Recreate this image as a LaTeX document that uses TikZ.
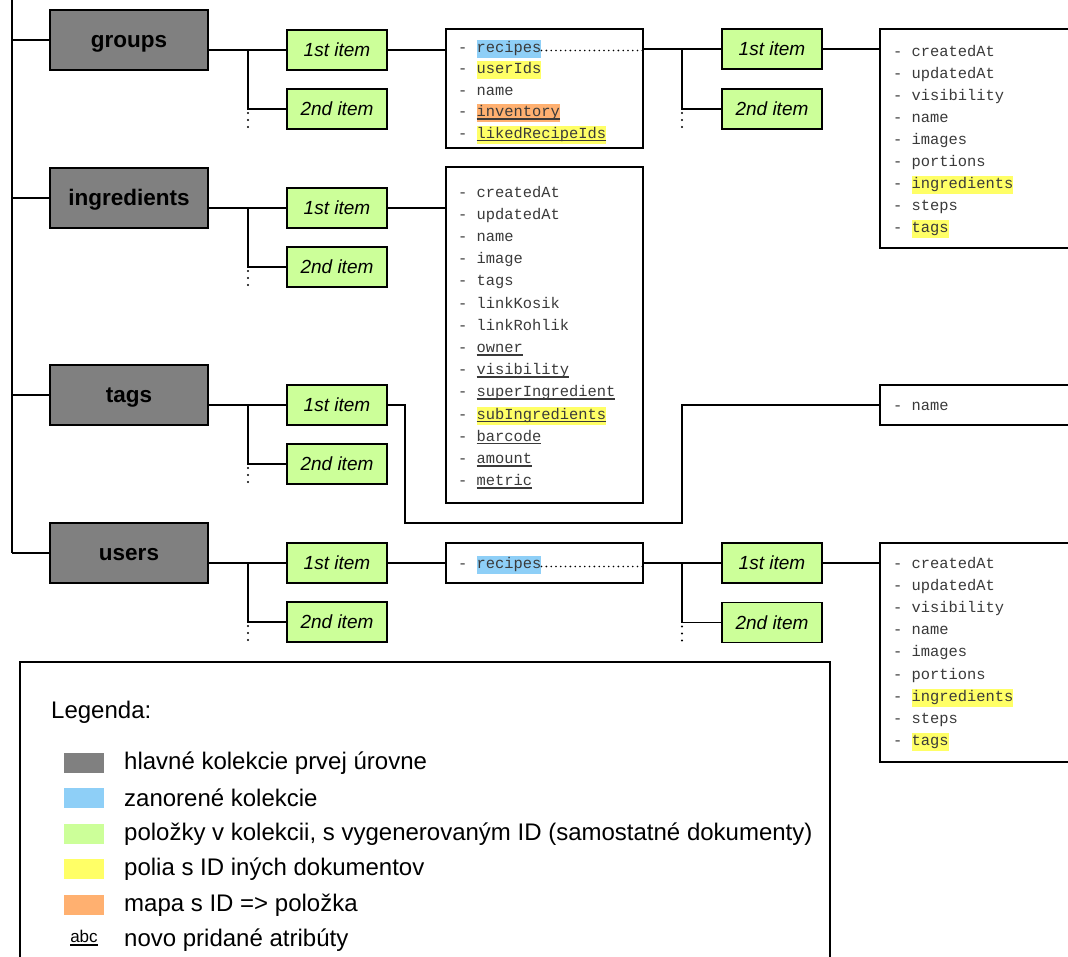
\documentclass[tikz,border=0pt]{standalone}
\usepackage{fontspec}
\setmainfont{Liberation Sans}
\newfontfamily\monof{Liberation Mono}
\definecolor{collgray}{HTML}{808080}
\definecolor{itemgreen}{HTML}{CCFF99}
\definecolor{hlblue}{HTML}{8ECFF7}
\definecolor{hlyellow}{HTML}{FFFF66}
\definecolor{hlorange}{HTML}{FFB070}
\definecolor{fieldtext}{HTML}{3A3A3A}
% highlighted field name
\newcommand\hlt[2]{{\fboxsep=0pt\colorbox{#1}{\strut#2}}}
% newly added attribute: thick underline
\newcommand\newattr[1]{\setbox0\hbox{#1}\rlap{\rule[-3pt]{\wd0}{1.6pt}}\box0}
% three dots below a branch
\newcommand\moredots[1]{\foreach \d in {4,11,18} \fill (#1) ++(0,\d) circle[radius=1.1pt];}
\begin{document}
\begin{tikzpicture}[x=1pt,y=-1pt,
  conn/.style={line width=1.6pt,black},
  dotline/.style={line width=1.8pt,line cap=round,dash pattern=on 0pt off 4.8pt},
  coll/.style={draw,line width=1.8pt,fill=collgray,minimum width=158pt,minimum height=60pt,inner sep=0pt,
    text height=19pt,text depth=5pt,font=\fontsize{22.5}{27}\selectfont\bfseries},
  item/.style={draw,line width=1.8pt,fill=itemgreen,minimum width=100pt,minimum height=40pt,inner sep=0pt,
    font=\fontsize{19}{23}\selectfont\itshape},
  fbox/.style={draw,line width=1.8pt,fill=white,inner sep=0pt},
  fld/.style={anchor=west,inner sep=0pt,yshift=-1.5pt,text=fieldtext,font=\monof\fontsize{15.4}{18}\selectfont},
  swatch/.style={minimum width=40pt,minimum height=20pt,inner sep=0pt},
  legtext/.style={anchor=west,inner sep=0pt,font=\fontsize{24}{28}\selectfont}
]
\useasboundingbox (0,0) rectangle (1068,956);

% spine of the top-level collections
\coordinate (spine) at (12,0);

% top-level collections with their first two items
\foreach \nm/\lab/\T in {groups/groups/10, ingr/ingredients/168, tags/tags/365, users/users/523} {
  \node[coll] (\nm) at (129,\T+30) {\lab};
  \node[item] (\nm-1) at (337,\T+40) {1st item};
  \node[item] (\nm-2) at (337,\T+99) {2nd item};
  \coordinate (\nm-br) at (248,\T+40);
  \draw[conn] (spine |- \nm.west) -- (\nm.west);
  \draw[conn] (\nm.east |- \nm-1.west) -- (\nm-1.west);
  \draw[conn] (\nm-br) |- (\nm-2.west);
  \moredots{\nm-br |- \nm-2.west}
}
\draw[conn] (spine) -- (spine |- users.west);

% groups: item fields
\node[fbox,minimum width=197pt,minimum height=119pt] (gfb) at (544.5,88.5) {};
\foreach \t [count=\i] in {{\hlt{hlblue}{recipes}}, {\hlt{hlyellow}{userIds}}, name,
    {\hlt{hlorange}{\newattr{inventory}}}, {\hlt{hlyellow}{\newattr{likedRecipeIds}}}}
  \node[fld] (gf-\i) at (458,{47+21.5*(\i-1)}) {- \strut\t};
\draw[conn] (groups-1.east) -- (groups-1.east -| gfb.west);
\coordinate (gdot) at ([yshift=-2pt]gf-1.east);
\draw[dotline] (gdot) -- (gdot -| gfb.east);

% groups: nested recipes collection
\node[item] (gr-1) at (772,49) {1st item};
\node[item] (gr-2) at (772,109) {2nd item};
\coordinate (gr-br) at (682,49);
\draw[conn] (gfb.east |- gr-1.west) -- (gr-1.west);
\draw[conn] (gr-br) |- (gr-2.west);
\moredots{gr-br |- gr-2.west}
\node[fbox,minimum width=200pt,minimum height=219pt] (grfb) at (980,138.5) {};
\foreach \t [count=\i] in {createdAt, updatedAt, visibility, name, images, portions,
    {\hlt{hlyellow}{ingredients}}, steps, {\hlt{hlyellow}{tags}}}
  \node[fld] (grf-\i) at (893,{51+22*(\i-1)}) {- \strut\t};
\draw[conn] (gr-1.east) -- (gr-1.east -| grfb.west);

% ingredients: item fields
\node[fbox,minimum width=197pt,minimum height=336pt] (ifb) at (544.5,335) {};
\foreach \t [count=\i] in {createdAt, updatedAt, name, image, tags, linkKosik, linkRohlik,
    {\newattr{owner}}, {\newattr{visibility}}, {\newattr{superIngredient}},
    {\hlt{hlyellow}{\newattr{subIngredients}}}, {\newattr{barcode}}, {\newattr{amount}}, {\newattr{metric}}}
  \node[fld] (if-\i) at (458,{192+22.2*(\i-1)}) {- \strut\t};
\draw[conn] (ingr-1.east) -- (ingr-1.east -| ifb.west);

% tags: item fields
\node[fbox,minimum width=200pt,minimum height=40pt] (tfb) at (980,405) {};
\node[fld] (tf-1) at (893,405) {- \strut name};
\coordinate (tbend) at (405,523);
\coordinate (tup) at (682,405);
\draw[conn] (tags-1.east) -| (tbend) -| (tup) -- (tfb.west);

% users: item fields
\node[fbox,minimum width=197pt,minimum height=40pt] (ufb) at (544.5,563) {};
\node[fld] (uf-1) at (458,563) {- \hlt{hlblue}{recipes}};
\draw[conn] (users-1.east) -- (users-1.east -| ufb.west);
\coordinate (udot) at ([yshift=-2pt]uf-1.east);
\draw[dotline] (udot) -- (udot -| ufb.east);

% users: nested recipes collection
\node[item] (ur-1) at (772,563) {1st item};
\node[item] (ur-2) at (772,622.5) {2nd item};
\coordinate (ur-br) at (682,563);
\draw[conn] (ufb.east |- ur-1.west) -- (ur-1.west);
\draw[conn] (ur-br) |- (ur-2.west);
\moredots{ur-br |- ur-2.west}
\node[fbox,minimum width=200pt,minimum height=219pt] (urfb) at (980,652.5) {};
\foreach \t [count=\i] in {createdAt, updatedAt, visibility, name, images, portions,
    {\hlt{hlyellow}{ingredients}}, steps, {\hlt{hlyellow}{tags}}}
  \node[fld] (urf-\i) at (893,{563+22.2*(\i-1)}) {- \strut\t};
\draw[conn] (ur-1.east) -- (ur-1.east -| urfb.west);

% legend
\node[fbox,minimum width=810pt,minimum height=308pt] (legend) at (425,816) {};
\node[legtext] (leghead) at (51,712) {Legenda:};
\foreach \c/\t/\y [count=\i] in {
    collgray/{hlavné kolekcie prvej úrovne}/763,
    hlblue/{zanorené kolekcie}/798,
    itemgreen/{položky v kolekcii, s vygenerovaným ID (samostatné dokumenty)}/834,
    hlyellow/{polia s ID iných dokumentov}/869,
    hlorange/{mapa s ID => položka}/905} {
  \node[swatch,fill=\c] (sw-\i) at (84,\y) {};
  \node[legtext] (lt-\i) at (124,\y) {\t};
}
\node[inner sep=0pt,font=\fontsize{17}{20}\selectfont] (sw-6) at (84,938) {\newattr{abc}};
\node[legtext] (lt-6) at (124,940) {novo pridané atribúty};
\end{tikzpicture}
\end{document}
